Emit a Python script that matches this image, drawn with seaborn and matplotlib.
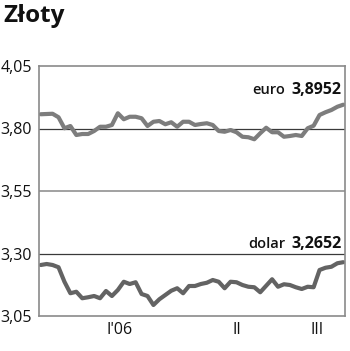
import numpy as np
import pandas as pd
import matplotlib
matplotlib.use("Agg")
import matplotlib.pyplot as plt
import seaborn as sns

title = "Złoty"
euro = [3.857, 3.858, 3.859, 3.845, 3.801, 3.810, 3.774, 3.778, 3.778, 3.790,
        3.807, 3.807, 3.814, 3.861, 3.837, 3.847, 3.847, 3.841, 3.810, 3.827,
        3.830, 3.817, 3.825, 3.807, 3.827, 3.827, 3.814, 3.818, 3.821, 3.814,
        3.790, 3.787, 3.794, 3.785, 3.767, 3.765, 3.757, 3.781, 3.803, 3.785,
        3.785, 3.767, 3.770, 3.774, 3.770, 3.801, 3.811, 3.854, 3.865, 3.874,
        3.887, 3.8952]
dolar = [3.254, 3.258, 3.254, 3.245, 3.187, 3.141, 3.147, 3.121, 3.125, 3.130,
         3.121, 3.150, 3.130, 3.154, 3.187, 3.178, 3.185, 3.138, 3.130, 3.094,
         3.117, 3.134, 3.151, 3.161, 3.141, 3.170, 3.170, 3.178, 3.183, 3.194,
         3.187, 3.161, 3.187, 3.185, 3.174, 3.167, 3.165, 3.145, 3.171, 3.197,
         3.167, 3.177, 3.174, 3.165, 3.158, 3.167, 3.165, 3.234, 3.243, 3.247,
         3.261, 3.2652]
series_names = ["euro", "dolar"]
last_labels = ["3,8952", "3,2652"]
y_ticks = [3.05, 3.30, 3.55, 3.80, 4.05]
y_tick_labels = ["3,05", "3,30", "3,55", "3,80", "4,05"]
quarter_bounds = [1.57, 23.14, 42.7]
quarter_label_pos = [13.3, 33.0, 46.5]
quarter_labels = ["I'06", "II", "III"]

df = pd.DataFrame({
    "t": list(range(len(euro))) + list(range(len(dolar))),
    "val": euro + dolar,
    "cur": ["euro"] * len(euro) + ["dolar"] * len(dolar),
})

sns.set_theme(style="white")
plt.rcParams['font.family'] = ['Open Sans', 'DejaVu Sans']

fig = plt.figure(figsize=(3.5, 3.51), dpi=100)
ax = fig.add_axes([39/350, 35/351, 306/350, 250/351])

sns.lineplot(data=df, x="t", y="val", hue="cur",
             palette={"euro": "#7d7d7d", "dolar": "#636363"},
             linewidth=3.0, legend=False, ax=ax)

ax.set_xlim(-0.29, 51.29)
ax.set_ylim(y_ticks[0], y_ticks[-1])

# grid lines
for v in y_ticks[1:-1]:
    if abs(v - 3.55) < 1e-6:
        ax.axhline(v, color="#9a9a9a", lw=1.3, zorder=0)
    else:
        ax.axhline(v, color="#3a3a3a", lw=0.9, zorder=0)

ax.set_yticks(y_ticks)
ax.set_yticklabels(y_tick_labels)
ax.tick_params(axis="y", length=0, pad=5, labelsize=11.5, labelcolor="#111111")

ax.set_xticks(quarter_bounds)
ax.set_xticklabels([])
ax.set_xticks(quarter_label_pos, minor=True)
ax.set_xticklabels(quarter_labels, minor=True)
ax.tick_params(axis="x", which="major", length=14, width=1.3, color="#8a8a8a", direction="out")
ax.tick_params(axis="x", which="minor", length=0, pad=4, labelsize=11.5, labelcolor="#111111")

for s in ax.spines.values():
    s.set_visible(True)
    s.set_color("#8a8a8a")
    s.set_linewidth(1.2)

ax.set_xlabel("")
ax.set_ylabel("")

# end-value labels (name regular, value bold)
label_rows = [3.954, 3.338]
for name, lab, yv in zip(series_names, last_labels, label_rows):
    ax.text(0.988, yv, lab, transform=ax.get_yaxis_transform(), ha="right", va="center",
            fontsize=11.5, fontweight="bold", color="#111111")
    ax.text(0.805, yv, name, transform=ax.get_yaxis_transform(), ha="right", va="center",
            fontsize=10.5, fontweight="semibold", color="#111111")

# title
fig.text(3/350, 1 - 4/351, title, ha="left", va="top", fontsize=17.5, fontweight="bold", color="#111111")

fig.savefig("out.png", dpi=100)
